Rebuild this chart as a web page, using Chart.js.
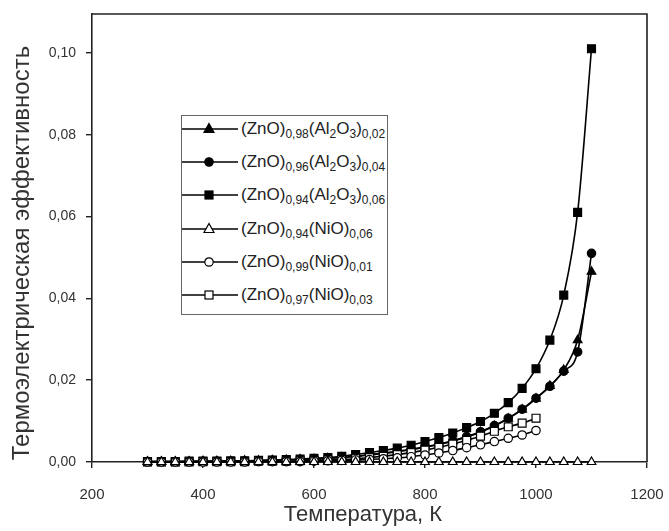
<!DOCTYPE html>
<html>
<head>
<meta charset="utf-8">
<script src="https://cdn.jsdelivr.net/npm/chart.js@4.4.1/dist/chart.umd.min.js"></script>
<style>
  html, body { margin: 0; padding: 0; background: #fff; }
  #wrap { position: relative; width: 669px; height: 531px; }
  #legend { position: absolute; left: 181px; top: 115px; width: 207px; height: 200px;
            border: 1px solid #666; box-sizing: border-box; background: #fff;
            font-family: "Liberation Sans", Arial, sans-serif; color: #222; }
  .row { position: absolute; left: 0; height: 24px; display: flex; align-items: center; white-space: nowrap; }
  .row svg { flex: none; margin-right: 3px; }
  .row span { font-size: 17px; }
  .row sub { font-size: 12px; vertical-align: -4px; line-height: 0; }
</style>
</head>
<body>
<div id="wrap">
  <canvas id="c" width="669" height="531"></canvas>
  <div id="legend"></div>
</div>
<script>
// ---- data ----
const tempsFull = [300,325,350,375,400,425,450,475,500,525,550,575,600,625,650,675,700,725,750,775,800,825,850,875,900,925,950,975,1000,1025,1050,1075,1100];
const tempsTo1000 = [300,325,350,375,400,425,450,475,500,525,550,575,600,625,650,675,700,725,750,775,800,825,850,875,900,925,950,975,1000];

const zAl002 = [0.0001,0.0001,0.0001,0.0001,0.0002,0.0002,0.0002,0.0003,0.0003,0.0004,0.0005,0.0006,0.0007,0.0009,0.0011,0.0014,0.0017,0.0021,0.0025,0.0030,0.0036,0.0043,0.0051,0.0061,0.0073,0.0088,0.0106,0.0128,0.0155,0.0186,0.0225,0.0298,0.0465];
const zAl004 = [0.0001,0.0001,0.0001,0.0001,0.0002,0.0002,0.0002,0.0003,0.0003,0.0004,0.0005,0.0006,0.0007,0.0009,0.0011,0.0014,0.0018,0.0022,0.0026,0.0031,0.0037,0.0044,0.0052,0.0062,0.0074,0.0089,0.0107,0.0129,0.0156,0.0185,0.0222,0.0269,0.0510];
const zAl006 = [0.0001,0.0001,0.0001,0.0002,0.0002,0.0002,0.0003,0.0003,0.0004,0.0005,0.0006,0.0007,0.0009,0.0011,0.0014,0.0018,0.0023,0.0028,0.0034,0.0041,0.0050,0.0060,0.0071,0.0084,0.0099,0.0119,0.0145,0.0180,0.0228,0.0298,0.0408,0.0610,0.1010];
const zNi006 = [0,0,0,0,0,0,0,0,0,0,0,0,0,0,0,0,0,0,0,0,0,0,0,0,0,0,0,0,0,0,0,0,0];
const zNi001 = [0,0,0,0,0,0,0,0,0.0001,0.0001,0.0001,0.0001,0.0002,0.0003,0.0004,0.0005,0.0006,0.0008,0.0010,0.0013,0.0017,0.0022,0.0028,0.0035,0.0042,0.0050,0.0058,0.0066,0.0077];
const zNi003 = [0,0,0,0,0.0001,0.0001,0.0001,0.0001,0.0002,0.0002,0.0002,0.0003,0.0004,0.0005,0.0006,0.0008,0.0011,0.0014,0.0018,0.0023,0.0029,0.0036,0.0044,0.0053,0.0063,0.0075,0.0086,0.0095,0.0107];

const seriesNames = [
  "(ZnO)_{0,98}(Al_{2}O_{3})_{0,02}",
  "(ZnO)_{0,96}(Al_{2}O_{3})_{0,04}",
  "(ZnO)_{0,94}(Al_{2}O_{3})_{0,06}",
  "(ZnO)_{0,94}(NiO)_{0,06}",
  "(ZnO)_{0,99}(NiO)_{0,01}",
  "(ZnO)_{0,97}(NiO)_{0,03}"
];
const xTicks = [200,400,600,800,1000,1200];
const yTicks = [0,0.02,0.04,0.06,0.08,0.10];
const xTitle = "Температура, К";
const yTitle = "Термоэлектрическая эффективность";

// ---- styles ----
const markers = [
  {style:'triangle', fill:'#000', r:5},
  {style:'circle',   fill:'#000', r:4.2},
  {style:'rect',     fill:'#000', r:5.6},
  {style:'triangle', fill:'#fff', r:5},
  {style:'circle',   fill:'#fff', r:4.2},
  {style:'rect',     fill:'#fff', r:5.6}
];
const xs = [tempsFull, tempsFull, tempsFull, tempsFull, tempsTo1000, tempsTo1000];
const ys = [zAl002, zAl004, zAl006, zNi006, zNi001, zNi003];
const orders = [6,5,4,1,2,3];

const datasets = ys.map((arr, i) => ({
  label: seriesNames[i],
  data: arr.map((v, k) => ({x: xs[i][k], y: v})),
  borderColor: '#000',
  borderWidth: 1.6,
  pointStyle: markers[i].style,
  pointRadius: markers[i].r,
  pointBackgroundColor: markers[i].fill,
  pointBorderColor: '#000',
  pointBorderWidth: 1.2,
  cubicInterpolationMode: 'monotone',
  clip: false,
  order: orders[i]
}));

const fontFam = '"Liberation Sans", Arial, sans-serif';

const frame = {
  id: 'frame',
  afterDraw(chart) {
    const a = chart.chartArea, ctx = chart.ctx;
    ctx.save();
    ctx.strokeStyle = '#222';
    ctx.lineWidth = 1.6;
    ctx.beginPath();
    ctx.moveTo(a.left, a.top);
    ctx.lineTo(a.right, a.top);
    ctx.lineTo(a.right, a.bottom);
    ctx.stroke();
    // axis titles
    ctx.fillStyle = '#333';
    ctx.textAlign = 'center';
    ctx.textBaseline = 'middle';
    ctx.font = '22px ' + fontFam;
    ctx.fillText(xTitle, 363, 515);
    ctx.translate(22, 253);
    ctx.rotate(-Math.PI / 2);
    ctx.font = '24px ' + fontFam;
    ctx.fillText(yTitle, 0, 0);
    ctx.restore();
  }
};

new Chart(document.getElementById('c'), {
  type: 'line',
  data: { datasets },
  options: {
    responsive: false,
    animation: false,
    layout: { autoPadding: false, padding: { top: 14, right: 22, left: 0, bottom: 0 } },
    plugins: { legend: { display: false }, tooltip: { enabled: false } },
    scales: {
      x: {
        type: 'linear', min: 200, max: 1200,
        afterBuildTicks: s => { s.ticks = xTicks.map(v => ({value: v})); },
        afterFit: s => { s.height = 69; s.paddingRight = 0; s.paddingLeft = 0; },
        border: { color: '#222', width: 1.6 },
        grid: { drawOnChartArea: false, drawTicks: true, tickLength: 6, color: '#222', lineWidth: 1.4 },
        ticks: { color: '#333', font: { family: fontFam, size: 15 }, padding: 18, maxRotation: 0,
                 callback: v => String(v) },
        title: { display: false, text: xTitle }
      },
      y: {
        type: 'linear', min: 0, max: 0.1095,
        afterBuildTicks: s => { s.ticks = yTicks.map(v => ({value: v})); },
        afterFit: s => { s.width = 92; s.paddingTop = 0; s.paddingBottom = 0; },
        border: { color: '#222', width: 1.6 },
        grid: { drawOnChartArea: false, drawTicks: true, tickLength: 6, color: '#222', lineWidth: 1.4 },
        ticks: { color: '#333', font: { family: fontFam, size: 14 }, padding: 10,
                 callback: v => v.toFixed(2).replace('.', ',') },
        title: { display: false, text: yTitle }
      }
    }
  },
  plugins: [frame]
});

// ---- HTML legend with subscripts ----
function toHtml(s) { return s.replace(/_\{([^}]*)\}/g, '<sub>$1</sub>'); }
const leg = document.getElementById('legend');
seriesNames.forEach((name, i) => {
  const row = document.createElement('div');
  row.className = 'row';
  row.style.top = (13 + i * 33.2 - 12) + 'px';
  const m = markers[i];
  let shape = '';
  const cx = 27, cy = 12;
  if (m.style === 'triangle') shape = `<polygon points="${cx},${cy-5.5} ${cx+5},${cy+3.5} ${cx-5},${cy+3.5}" fill="${m.fill}" stroke="#000" stroke-width="1.2"/>`;
  else if (m.style === 'circle') shape = `<circle cx="${cx}" cy="${cy}" r="4.2" fill="${m.fill}" stroke="#000" stroke-width="1.2"/>`;
  else shape = `<rect x="${cx-4}" y="${cy-4}" width="8" height="8" fill="${m.fill}" stroke="#000" stroke-width="1.2"/>`;
  row.innerHTML = `<svg width="56" height="24"><line x1="0" y1="12" x2="56" y2="12" stroke="#000" stroke-width="1.6"/>${shape}</svg><span>${toHtml(name)}</span>`;
  leg.appendChild(row);
});
</script>
</body>
</html>
